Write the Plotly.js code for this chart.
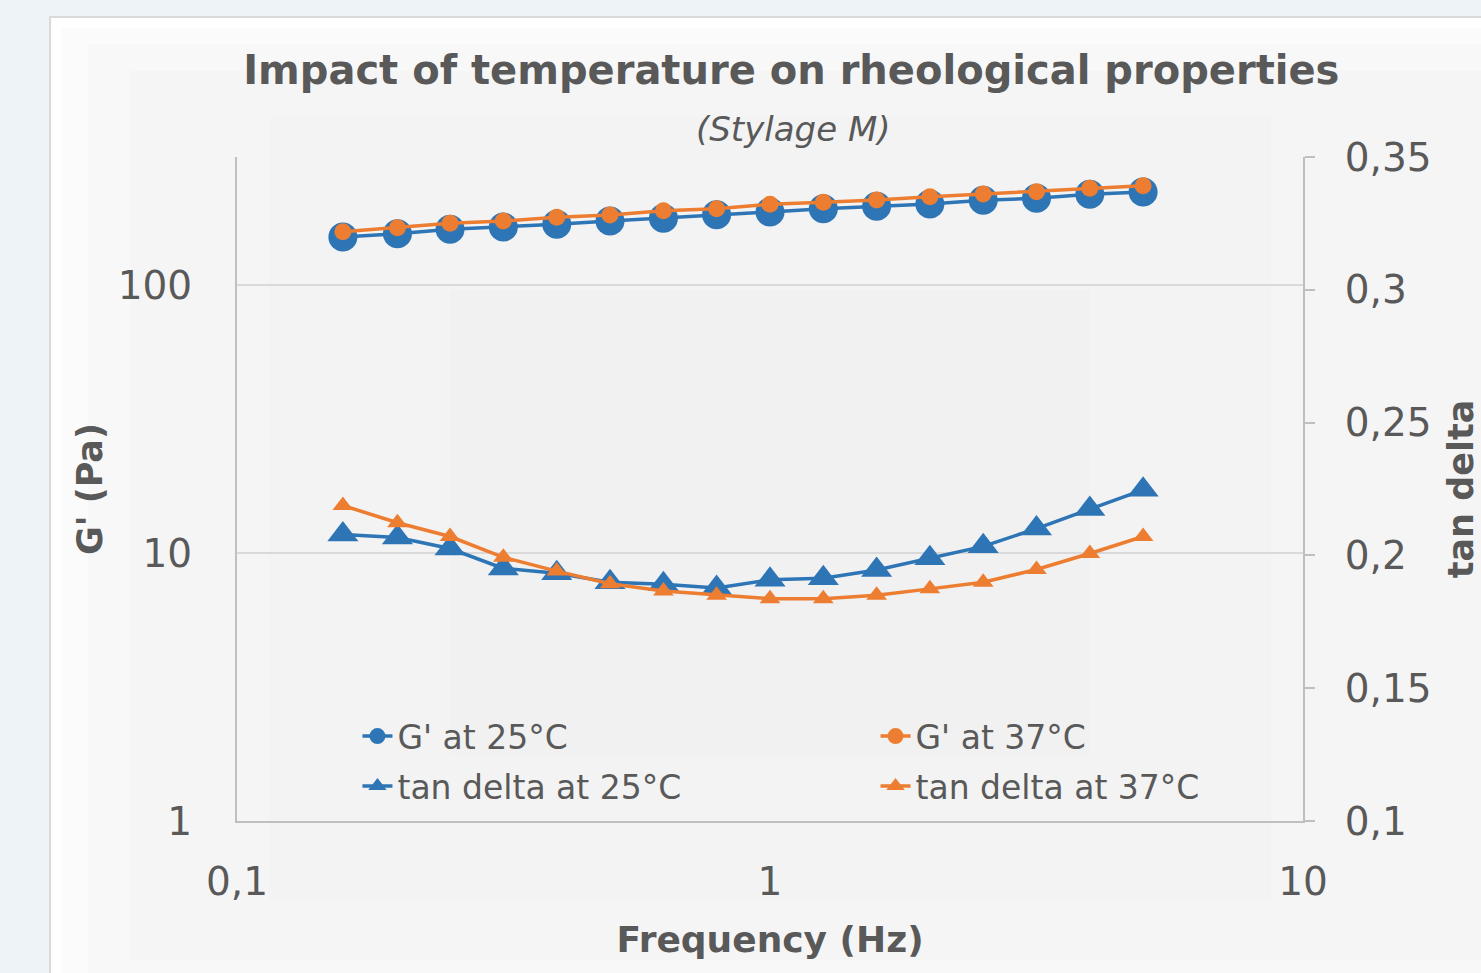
<!DOCTYPE html>
<html>
<head>
<meta charset="utf-8">
<script src="https://cdn.plot.ly/plotly-3.0.1.min.js"></script>
<style>
html,body{margin:0;padding:0;background:#eef3f7;}
#chart{width:1481px;height:973px;}
</style>
</head>
<body>
<div id="chart"></div>
<script>
// Frequency (Hz)
const frequency = [0.158, 0.2, 0.251, 0.316, 0.398, 0.501, 0.631, 0.794, 1.0, 1.259, 1.585, 1.995, 2.512, 3.162, 3.981, 5.012];
// G' (Pa)
const gPrime25 = [151, 155.4, 161.4, 164.6, 168.5, 173.3, 177.4, 182.9, 187.2, 192.6, 196.6, 200.6, 207, 210.6, 218, 222.3];
const gPrime37 = [158, 163.6, 169.9, 173.3, 178.9, 182.5, 189.3, 192.6, 200.1, 203.5, 207.6, 213.6, 218.6, 222.9, 229.5, 234.7];
// tan delta
const tanDelta25 = [0.2079, 0.2067, 0.2026, 0.1951, 0.1933, 0.1899, 0.1891, 0.1877, 0.1908, 0.1914, 0.1945, 0.1989, 0.2034, 0.2101, 0.2175, 0.2247];
const tanDelta37 = [0.2188, 0.2123, 0.2071, 0.1993, 0.1941, 0.1893, 0.1866, 0.1850, 0.1837, 0.1837, 0.1850, 0.1874, 0.1899, 0.1947, 0.2007, 0.2071];
// Tick labels
const xTickVals = [0.1, 1, 10];
const xTickText = ["0,1", "1", "10"];
const yTickVals = [1, 10, 100];
const yTickText = ["1", "10", "100"];
const y2TickVals = [0.1, 0.15, 0.2, 0.25, 0.3, 0.35];
const y2TickText = ["0,1", "0,15", "0,2", "0,25", "0,3", "0,35"];

const BLUE = '#2E75B6';
const ORANGE = '#ED7D31';
const TXT = '#595959';
const FONT = '"DejaVu Sans", Lato, sans-serif';

const traces = [
  {x: frequency, y: gPrime25, name: "G' at 25°C", type: 'scatter', mode: 'lines+markers', legendgroup: 'g25',
   line: {color: BLUE, width: 3.5}, marker: {symbol: 'circle', size: 29, color: BLUE}, legend: 'legend'},
  {x: frequency, y: tanDelta25, name: "tan delta at 25°C", type: 'scatter', mode: 'lines+markers', yaxis: 'y2', legendgroup: 't25',
   line: {color: BLUE, width: 3.5}, marker: {symbol: 'triangle-up', size: 27, color: BLUE}, legend: 'legend'},
  {x: frequency, y: gPrime37, name: "G' at 37°C", type: 'scatter', mode: 'lines+markers', legendgroup: 'g37',
   line: {color: ORANGE, width: 3.5}, marker: {symbol: 'circle', size: 17, color: ORANGE}, legend: 'legend2'},
  {x: frequency, y: tanDelta37, name: "tan delta at 37°C", type: 'scatter', mode: 'lines+markers', yaxis: 'y2', legendgroup: 't37',
   line: {color: ORANGE, width: 3.5}, marker: {symbol: 'triangle-up', size: 18, color: ORANGE}, legend: 'legend2'}
];

function rect(x0, y0, x1, y1, fill, line) {
  return {type: 'rect', xref: 'paper', yref: 'paper', x0: x0, y0: y0, x1: x1, y1: y1,
          fillcolor: fill, line: line || {width: 0}, layer: 'below'};
}

const layout = {
  width: 1481, height: 973,
  margin: {l: 237, r: 178, t: 157, b: 152},
  paper_bgcolor: '#eef3f7',
  plot_bgcolor: 'rgba(0,0,0,0)',
  separators: ', ',
  font: {family: FONT, color: TXT, size: 32},
  showlegend: true,
  title: {
    text: '<b>Impact of temperature on rheological properties</b>',
    font: {family: FONT, size: 40, color: TXT},
    x: 0.52, xref: 'paper', xanchor: 'center',
    y: 0.928, yref: 'container', yanchor: 'middle'
  },
  annotations: [
    {text: '<i>(Stylage M)</i>', xref: 'paper', yref: 'paper', x: 0.522, y: 1.042,
     xanchor: 'center', yanchor: 'middle', showarrow: false,
     font: {family: FONT, size: 34, color: TXT}}
  ],
  shapes: [
    rect(-0.1754, -0.3, 1.3, 1.2108, '#ffffff', {color: '#d9d9d9', width: 2}),
    rect(-0.165, -0.285, 1.3, 1.195, '#fbfbfb'),
    rect(-0.14, -0.26, 1.3, 1.17, '#f8f8f8'),
    rect(-0.1, -0.21, 1.26, 1.13, '#f5f5f5'),
    rect(0.03, -0.12, 0.97, 1.06, '#f3f3f3'),
    rect(0.2, 0.1, 0.8, 0.8, '#f1f1f1')
  ],
  xaxis: {
    type: 'log', range: [-1, 1],
    tickmode: 'array', tickvals: xTickVals, ticktext: xTickText,
    showgrid: false, zeroline: false,
    showline: true, linecolor: '#bfbfbf', linewidth: 2,
    ticks: '', ticklabelstandoff: 25,
    tickfont: {family: FONT, size: 39, color: TXT},
    title: {text: '<b>Frequency (Hz)</b>', font: {family: FONT, size: 36, color: TXT}, standoff: 24}
  },
  yaxis: {
    type: 'log', range: [0, 2.4776],
    tickmode: 'array', tickvals: yTickVals, ticktext: yTickText,
    showgrid: true, gridcolor: '#d9d9d9', gridwidth: 1.5,
    zeroline: false, showline: true, linecolor: '#bfbfbf', linewidth: 2,
    ticks: '', ticklabelstandoff: 35,
    tickfont: {family: FONT, size: 39, color: TXT},
    title: {text: "<b>G' (Pa)</b>", font: {family: FONT, size: 35, color: TXT}, standoff: 4}
  },
  yaxis2: {
    overlaying: 'y', side: 'right', range: [0.1, 0.35],
    tickmode: 'array', tickvals: y2TickVals, ticktext: y2TickText,
    showgrid: false, zeroline: false,
    showline: true, linecolor: '#bfbfbf', linewidth: 2,
    ticks: 'outside', ticklen: 10, tickcolor: '#bfbfbf', tickwidth: 2,
    ticklabelstandoff: 22,
    tickfont: {family: FONT, size: 39, color: TXT},
    title: {text: '<b>tan delta</b>', font: {family: FONT, size: 35, color: TXT}, standoff: 50}
  },
  legend: {
    x: 0.113, y: 0.17, xanchor: 'left', yanchor: 'top',
    bgcolor: 'rgba(0,0,0,0)', font: {family: FONT, size: 33, color: TXT},
    tracegroupgap: 4, itemwidth: 30
  },
  legend2: {
    x: 0.599, y: 0.17, xanchor: 'left', yanchor: 'top',
    bgcolor: 'rgba(0,0,0,0)', font: {family: FONT, size: 33, color: TXT},
    tracegroupgap: 4, itemwidth: 30
  }
};

Plotly.newPlot('chart', traces, layout, {displayModeBar: false, staticPlot: true});
</script>
</body>
</html>
